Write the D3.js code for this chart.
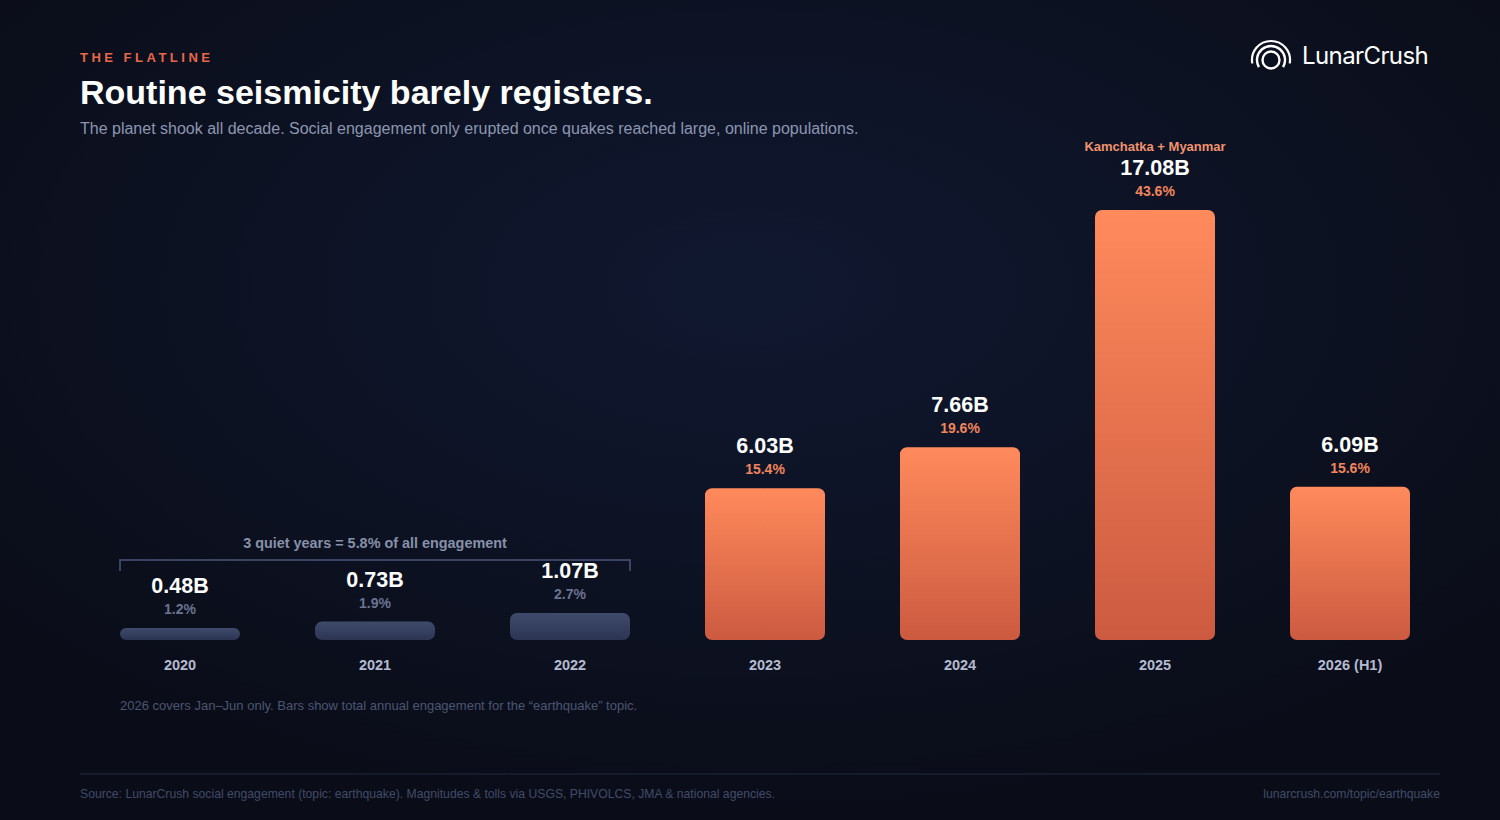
<!DOCTYPE html>
<meta charset="utf-8">
<title>The Flatline</title>
<style>
    body { margin: 0; background: #0a0e1a; }
    text { font-family: "Liberation Sans", Arial, sans-serif; }
</style>
<body>
<script src="https://d3js.org/d3.v7.min.js"></script>
<script>

    var years = ["2020", "2021", "2022", "2023", "2024", "2025", "2026 (H1)"],
        values = [0.48, 0.73, 1.07, 6.03, 7.66, 17.08, 6.09],
        shares = [1.2, 1.9, 2.7, 15.4, 19.6, 43.6, 15.6],
        quiet = [true, true, true, false, false, false, false],
        notes = ["", "", "", "", "", "Kamchatka + Myanmar", ""];

    var w = 1500,
        h = 820,
        base = 640;

    var svg = d3.select("body").append("svg")
        .attr("width", w)
        .attr("height", h);

    var defs = svg.append("defs");

    var bg = defs.append("radialGradient").attr("id", "bg")
        .attr("cx", "50%").attr("cy", "35%").attr("r", "65%");
    bg.append("stop").attr("offset", "0%").attr("stop-color", "#101830");
    bg.append("stop").attr("offset", "100%").attr("stop-color", "#0a0d18");

    var hot = defs.append("linearGradient").attr("id", "hot")
        .attr("x1", 0).attr("y1", 0).attr("x2", 0).attr("y2", 1);
    hot.append("stop").attr("offset", "0%").attr("stop-color", "#ff8a5c");
    hot.append("stop").attr("offset", "100%").attr("stop-color", "#cc5a40");

    var cold = defs.append("linearGradient").attr("id", "cold")
        .attr("x1", 0).attr("y1", 0).attr("x2", 0).attr("y2", 1);
    cold.append("stop").attr("offset", "0%").attr("stop-color", "#3f4a6c");
    cold.append("stop").attr("offset", "100%").attr("stop-color", "#2c3452");

    svg.append("rect").attr("width", w).attr("height", h).attr("fill", "url(#bg)");

    // header
    svg.append("text").attr("x", 80).attr("y", 62)
        .attr("fill", "#e8674a").style("font-size", "13px").style("font-weight", "bold")
        .style("letter-spacing", "3.5px").text("THE FLATLINE");
    svg.append("text").attr("x", 80).attr("y", 104)
        .attr("fill", "#fff").style("font-size", "34px").style("font-weight", "bold")
        .text("Routine seismicity barely registers.");
    svg.append("text").attr("x", 80).attr("y", 134)
        .attr("fill", "#8c96b0").style("font-size", "16px")
        .text("The planet shook all decade. Social engagement only erupted once quakes reached large, online populations.");

    // logo
    var logo = svg.append("g").attr("transform", "translate(1271,56)")
        .attr("fill", "none").attr("stroke", "#fff").attr("stroke-linecap", "round");
    logo.append("circle").attr("cy", 4).attr("r", 8.5).attr("stroke-width", 2.4);
    logo.append("path").attr("d", d3.arc()({innerRadius: 14, outerRadius: 14, startAngle: -2.1, endAngle: 2.1}))
        .attr("transform", "translate(0,4)").attr("stroke-width", 2.4);
    logo.append("path").attr("d", d3.arc()({innerRadius: 19, outerRadius: 19, startAngle: -1.75, endAngle: 1.75}))
        .attr("transform", "translate(0,4)").attr("stroke-width", 2.2);
    svg.append("text").attr("x", 1302).attr("y", 64)
        .attr("fill", "#fff").style("font-family", "Inter, 'Noto Sans', sans-serif")
        .style("font-size", "24px").style("letter-spacing", "-0.6px").text("LunarCrush");

    // scales
    var p = 75 / 195;
    var x = d3.scaleBand()
        .domain(years)
        .range([82.5, 1447.5])
        .paddingInner(p)
        .paddingOuter(p / 2);

    var y = d3.scaleLinear()
        .domain([0, 17.08])
        .range([base, 210]);

    var data = years.map(function(d, i) {
        return {year: d, value: values[i], share: shares[i], quiet: quiet[i], note: notes[i]};
    });

    var bars = svg.selectAll("g.bar")
        .data(data)
        .enter().append("g")
        .attr("class", "bar")
        .attr("transform", function(d) { return "translate(" + x(d.year) + ",0)"; });

    bars.append("rect")
        .attr("y", function(d) { return y(d.value); })
        .attr("width", x.bandwidth())
        .attr("height", function(d) { return base - y(d.value); })
        .attr("rx", function(d) { return Math.min(7, (base - y(d.value)) / 2); })
        .attr("fill", function(d) { return d.quiet ? "url(#cold)" : "url(#hot)"; });

    var cx = x.bandwidth() / 2;

    bars.append("text")
        .attr("x", cx)
        .attr("y", function(d) { return y(d.value) - 35; })
        .attr("text-anchor", "middle")
        .attr("fill", "#fff").style("font-size", "21.5px").style("font-weight", "bold")
        .text(function(d) { return d.value.toFixed(2) + "B"; });

    bars.append("text")
        .attr("x", cx)
        .attr("y", function(d) { return y(d.value) - 14; })
        .attr("text-anchor", "middle")
        .attr("fill", function(d) { return d.quiet ? "#6a7390" : "#f0845c"; })
        .style("font-size", "14px").style("font-weight", "bold")
        .text(function(d) { return d.share.toFixed(1) + "%"; });

    bars.filter(function(d) { return d.note; }).append("text")
        .attr("x", cx)
        .attr("y", function(d) { return y(d.value) - 59; })
        .attr("text-anchor", "middle")
        .attr("fill", "#f0936e").style("font-size", "13px").style("font-weight", "bold")
        .text(function(d) { return d.note; });

    // year axis
    var axis = svg.append("g").attr("transform", "translate(0," + (base + 30) + ")")
        .call(d3.axisBottom(x).tickSize(0).tickPadding(0));
    axis.select(".domain").remove();
    axis.selectAll("text")
        .attr("dy", 0)
        .attr("fill", "#b4bbd0")
        .style("font-family", "'Liberation Sans', Arial, sans-serif")
        .style("font-size", "14.5px").style("font-weight", "bold");

    // bracket for quiet years
    var bx0 = x("2020"), bx1 = x("2022") + x.bandwidth();
    svg.append("path")
        .attr("d", "M" + bx0 + ",571V560H" + bx1 + "V571")
        .attr("fill", "none").attr("stroke", "#4a5578").attr("stroke-width", 1.5);
    svg.append("text").attr("x", (bx0 + bx1) / 2).attr("y", 548)
        .attr("text-anchor", "middle")
        .attr("fill", "#8890a8").style("font-size", "14.4px").style("font-weight", "bold")
        .text("3 quiet years = 5.8% of all engagement");

    // notes and footer
    svg.append("text").attr("x", 120).attr("y", 710)
        .attr("fill", "#4c5572").style("font-size", "13px")
        .text("2026 covers Jan\u2013Jun only. Bars show total annual engagement for the \u201cearthquake\u201d topic.");

    svg.append("line").attr("x1", 80).attr("x2", 1440).attr("y1", 774).attr("y2", 774)
        .attr("stroke", "#1a2032").attr("stroke-width", 1.5);

    svg.append("text").attr("x", 80).attr("y", 798)
        .attr("fill", "#414b69").style("font-size", "12.2px")
        .text("Source: LunarCrush social engagement (topic: earthquake). Magnitudes & tolls via USGS, PHIVOLCS, JMA & national agencies.");
    svg.append("text").attr("x", 1440).attr("y", 798).attr("text-anchor", "end")
        .attr("fill", "#414b69").style("font-size", "12.2px")
        .text("lunarcrush.com/topic/earthquake");

</script>
